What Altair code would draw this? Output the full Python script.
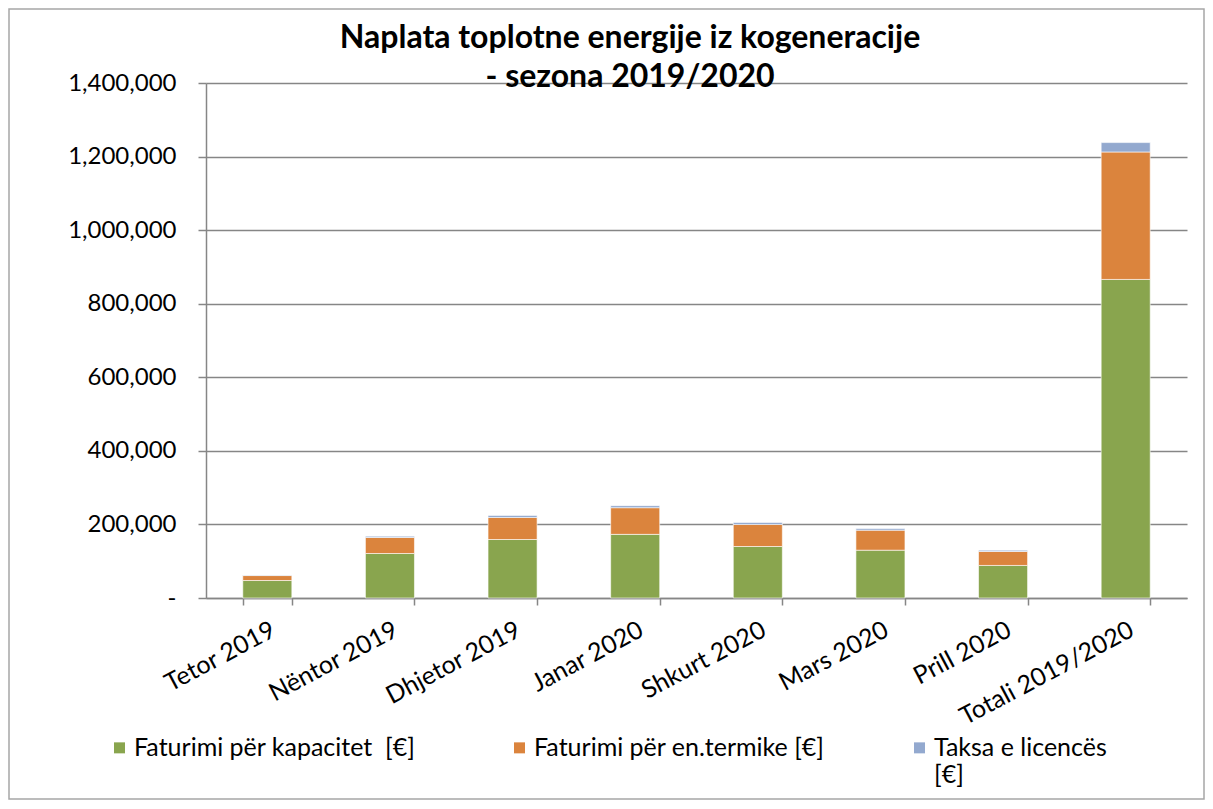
import altair as alt
import pandas as pd

categories = ["Tetor 2019", "Nëntor 2019", "Dhjetor 2019", "Janar 2020",
              "Shkurt 2020", "Mars 2020", "Prill 2020", "Totali 2019/2020"]
series = ["Faturimi për kapacitet  [€]", "Faturimi për en.termike [€]", "Taksa e licencës [€]"]
kapacitet = [47500, 121000, 159000, 173000, 140000, 130000, 88500, 866000]
termike = [13500, 43500, 60000, 72500, 60000, 54500, 38000, 346500]
licenca = [1500, 3500, 5500, 5500, 5500, 4500, 3500, 25500]
colors = ["#89A54E", "#DB843D", "#93A9CF"]
y_ticks = [0, 200000, 400000, 600000, 800000, 1000000, 1200000, 1400000]
title_lines = ["Naplata toplotne energije iz kogeneracije", "- sezona 2019/2020"]

rows = []
for s_idx, (name, vals) in enumerate(zip(series, [kapacitet, termike, licenca])):
    for c, v in zip(categories, vals):
        rows.append({"category": c, "series": name, "value": v, "idx": s_idx})
df = pd.DataFrame(rows)

FONT = "Lato"
GRID = "#868686"

legend_expr = (
    "datum.label == 'Taksa e licencës [€]' ? ['Taksa e licencës', '[€]'] : "
    "datum.label == 'Faturimi për kapacitet  [€]' ? ['Faturimi për kapacitet\u00a0\u00a0[€]', ''] : "
    "[datum.label, '']"
)

bars = alt.Chart(df).mark_bar(stroke="white", strokeWidth=0.6).encode(
    x=alt.X("category:N", sort=categories,
            scale=alt.Scale(paddingInner=0.6, paddingOuter=0.3),
            axis=alt.Axis(title=None, labelAngle=-28, labelAlign="right", labelBaseline="top",
                          labelPadding=12, labelFontSize=25, labelFont=FONT, labelColor="black",
                          labelLimit=400,
                          tickBand="extent", tickSize=7, tickColor=GRID, tickWidth=1.5,
                          domainColor=GRID, domainWidth=1.5, grid=False)),
    y=alt.Y("value:Q", stack="zero",
            scale=alt.Scale(domain=[0, 1400000], nice=False),
            axis=alt.Axis(title=None, values=y_ticks,
                          labelExpr="datum.value == 0 ? '-' : format(datum.value, ',')",
                          labelFontSize=24, labelFont=FONT, labelColor="black", labelPadding=22,
                          tickSize=8, tickColor=GRID, tickWidth=1.5,
                          domainColor=GRID, domainWidth=1.5,
                          gridColor=GRID, gridWidth=1.5)),
    color=alt.Color("series:N", scale=alt.Scale(domain=series, range=colors),
                    legend=alt.Legend(title=None, orient="none", legendX=-99, legendY=640,
                                      direction="horizontal", columns=3, gridAlign="all",
                                      columnPadding=82, symbolType="M-1,1.2H1V3.2H-1Z",
                                      symbolSize=121,
                                      symbolStrokeWidth=0, labelFontSize=25, labelFont=FONT,
                                      labelColor="black", labelOffset=2, labelBaseline="top",
                                      labelLimit=500, labelExpr=legend_expr)),
    order=alt.Order("idx:Q", sort="ascending"),
)

frame = alt.Chart(alt.Data(values=[{}])).mark_rect(
    fillOpacity=0, stroke="#a6a6a6", strokeWidth=1.5
).encode(
    x=alt.value(-197), x2=alt.value(998), y=alt.value(-74), y2=alt.value(716)
)

title = alt.Chart(alt.Data(values=[{}])).mark_text(
    text=title_lines, font=FONT, fontSize=32, fontWeight="bold", color="black",
    align="center", baseline="alphabetic", lineHeight=39
).encode(x=alt.value(424), y=alt.value(-35))

chart = alt.layer(bars, frame, title).properties(
    width=981, height=515,
    padding={"left": 198, "top": 75, "right": 18, "bottom": 203},
    autosize="none",
).configure_view(stroke=None)

chart.save("out.html", embed_options={"renderer": "svg", "actions": False})
